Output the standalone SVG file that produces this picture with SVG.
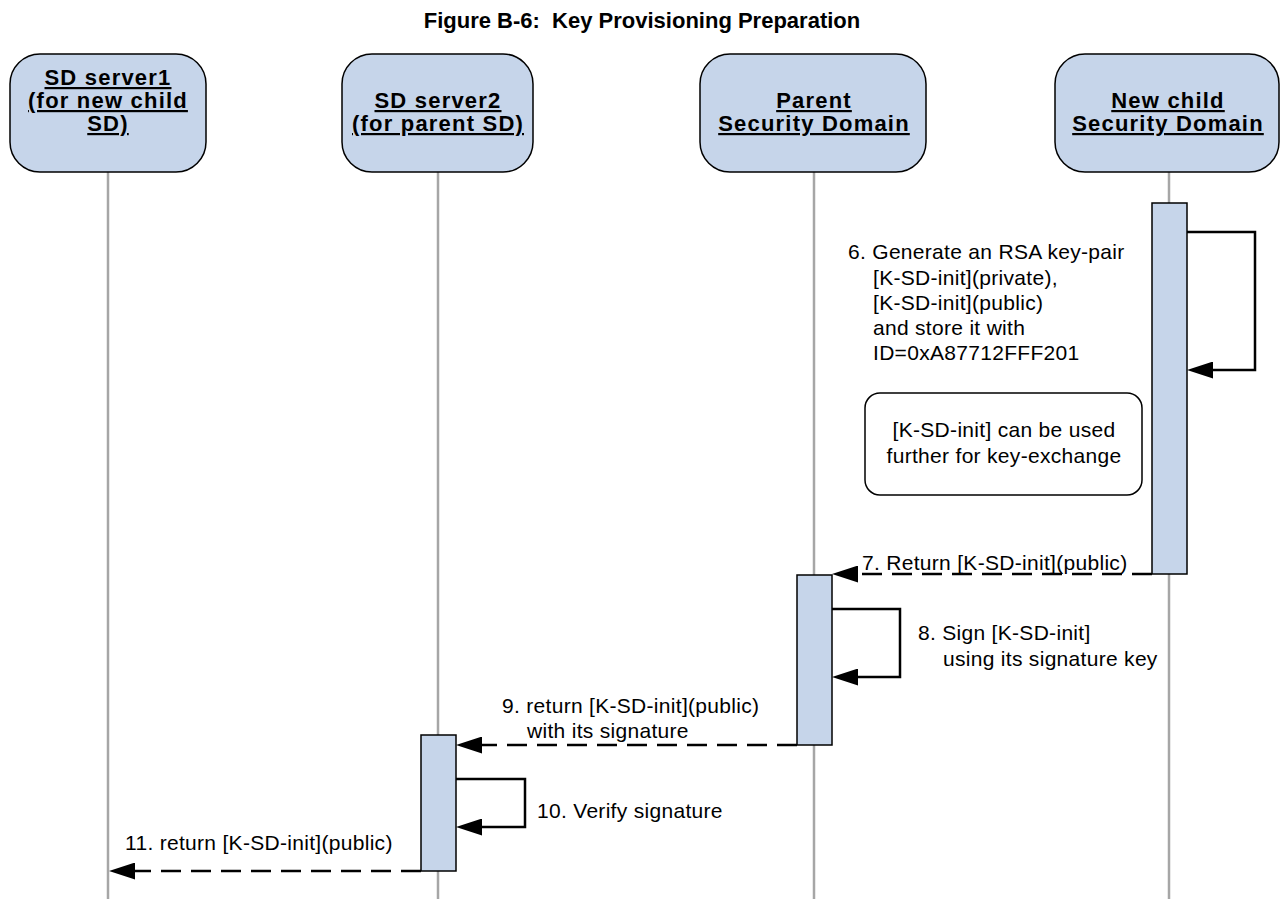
<svg xmlns="http://www.w3.org/2000/svg" width="1284" height="899" viewBox="0 0 1284 899">
  <style>
    .title { font-family: "Liberation Sans", Arial, sans-serif; font-size: 22px; font-weight: bold; fill: #000; white-space: pre; }
    .head { fill: #c6d5ea; stroke: #000; stroke-width: 1.5; }
    .head-text { font-family: "Liberation Sans", Arial, sans-serif; font-size: 22px; font-weight: bold; fill: #000; text-anchor: middle; text-decoration: underline; letter-spacing: 1.2px; }
    .life { stroke: #a6a6a6; stroke-width: 2.5; fill: none; }
    .bar { fill: #c6d5ea; stroke: #000; stroke-width: 1.5; }
    .msg { font-family: "Liberation Sans", Arial, sans-serif; font-size: 21px; fill: #000; letter-spacing: 0.3px; }
    .note { fill: #fff; stroke: #000; stroke-width: 1.5; }
    .self { stroke: #000; stroke-width: 2.5; fill: none; marker-end: url(#arrow); }
    .ret { stroke: #000; stroke-width: 2.5; fill: none; stroke-dasharray: 20 10; marker-end: url(#arrow); }
  </style>
  <defs>
    <marker id="arrow" markerUnits="userSpaceOnUse" markerWidth="27" markerHeight="17" refX="4" refY="8.5" orient="auto">
      <path d="M0,0 L26,8.5 L0,17 z" fill="#000"/>
    </marker>
  </defs>

  <rect width="1284" height="899" fill="#fff"/>

  <text class="title" x="642" y="28" text-anchor="middle">Figure B-6:  Key Provisioning Preparation</text>

  <!-- lifelines -->
  <g id="lifelines">
    <line class="life" x1="108" y1="172" x2="108" y2="899"/>
    <line class="life" x1="438" y1="172" x2="438" y2="899"/>
    <line class="life" x1="814" y1="172" x2="814" y2="899"/>
    <line class="life" x1="1169" y1="172" x2="1169" y2="899"/>
  </g>

  <!-- participants -->
  <g id="sd-server1">
    <rect class="head" x="10" y="54" width="196" height="118" rx="30"/>
    <text class="head-text" x="108" y="85">SD server1</text>
    <text class="head-text" x="108" y="108">(for new child</text>
    <text class="head-text" x="108" y="131">SD)</text>
  </g>
  <g id="sd-server2">
    <rect class="head" x="342" y="54" width="191" height="118" rx="30"/>
    <text class="head-text" x="438" y="108">SD server2</text>
    <text class="head-text" x="438" y="131">(for parent SD)</text>
  </g>
  <g id="parent-sd">
    <rect class="head" x="700" y="54" width="226" height="118" rx="30"/>
    <text class="head-text" x="814" y="108">Parent</text>
    <text class="head-text" x="814" y="131">Security Domain</text>
  </g>
  <g id="child-sd">
    <rect class="head" x="1055" y="54" width="224" height="118" rx="30"/>
    <text class="head-text" x="1168" y="108">New child</text>
    <text class="head-text" x="1168" y="131">Security Domain</text>
  </g>

  <!-- activation bars -->
  <g id="activations">
    <rect class="bar" x="1152" y="203" width="35" height="371"/>
    <rect class="bar" x="797" y="575" width="35" height="170"/>
    <rect class="bar" x="421" y="735" width="35" height="136"/>
  </g>

  <!-- note -->
  <g id="note">
    <rect class="note" x="865" y="393" width="277" height="102" rx="15"/>
    <text class="msg" x="1004" y="437" text-anchor="middle">[K-SD-init] can be used</text>
    <text class="msg" x="1004" y="463" text-anchor="middle">further for key-exchange</text>
  </g>

  <!-- messages -->
  <g id="connectors">
    <path class="self" d="M1187,232 H1255 V370 H1209"/>
    <path class="ret" d="M1152,574 H854"/>
    <path class="self" d="M832,609 H900 V677 H854"/>
    <path class="ret" d="M797,745 H478"/>
    <path class="self" d="M456,779 H525 V827 H478"/>
    <path class="ret" d="M421,871 H131"/>
  </g>

  <g id="labels">
    <text class="msg" x="848" y="259">6. Generate an RSA key-pair</text>
    <text class="msg" x="873" y="285">[K-SD-init](private),</text>
    <text class="msg" x="873" y="310">[K-SD-init](public)</text>
    <text class="msg" x="873" y="335">and store it with</text>
    <text class="msg" x="873" y="360">ID=0xA87712FFF201</text>
    <text class="msg" x="862" y="570">7. Return [K-SD-init](public)</text>
    <text class="msg" x="918" y="640">8. Sign [K-SD-init]</text>
    <text class="msg" x="943" y="666">using its signature key</text>
    <text class="msg" x="502" y="713">9. return [K-SD-init](public)</text>
    <text class="msg" x="527" y="738">with its signature</text>
    <text class="msg" x="537" y="818">10. Verify signature</text>
    <text class="msg" x="125" y="850">11. return [K-SD-init](public)</text>
  </g>
</svg>
